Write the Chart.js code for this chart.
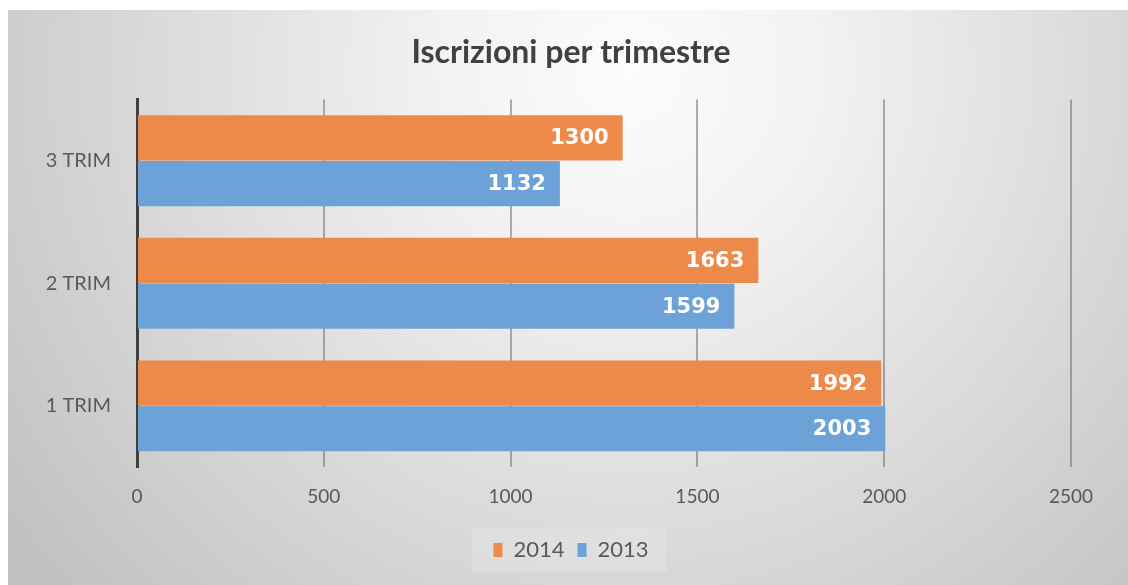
<!DOCTYPE html>
<html>
<head>
<meta charset="utf-8">
<script src="https://cdn.jsdelivr.net/npm/chart.js@4.4.0/dist/chart.umd.min.js"></script>
<style>
  html, body { margin: 0; padding: 0; background: #fff; }
  #box { width: 1128px; height: 585px; }
</style>
</head>
<body>
<div id="box"><canvas id="myChart"></canvas></div>
<script>
// dati
let trimestri = ["3 TRIM", "2 TRIM", "1 TRIM"];
let iscritti2014 = [1300, 1663, 1992];
let iscritti2013 = [1132, 1599, 2003];
let tickX = [0, 500, 1000, 1500, 2000, 2500];

let arancio = "#ED8A4A";
let azzurro = "#6CA2D8";

// sfondo grigio sfumato come in Excel
const sfondo = {
  id: "sfondo",
  beforeDraw(chart) {
    const c = chart.ctx;
    c.save();
    c.fillStyle = "#ffffff";
    c.fillRect(0, 0, chart.width, chart.height);
    let g = c.createRadialGradient(630, 70, 0, 630, 70, 760);
    g.addColorStop(0, "#fcfcfc");
    g.addColorStop(0.25, "#f2f2f2");
    g.addColorStop(1, "#c2c2c2");
    c.fillStyle = g;
    c.fillRect(8, 10, chart.width - 8, chart.height - 10);
    // riquadro legenda
    const lg = chart.legend;
    if (lg && lg.legendHitBoxes && lg.legendHitBoxes.length) {
      let sx = Math.min(...lg.legendHitBoxes.map(b => b.left));
      let dx = Math.max(...lg.legendHitBoxes.map(b => b.left + b.width));
      let yc = lg.legendHitBoxes[0].top + lg.legendHitBoxes[0].height / 2;
      c.fillStyle = "rgba(255,255,255,0.16)";
      c.fillRect(sx - 22, yc - 22, dx - sx + 40, 44);
    }
    c.restore();
  }
};

// etichette valori dentro le barre
const etichette = {
  id: "etichette",
  afterDatasetsDraw(chart) {
    const c = chart.ctx;
    c.save();
    c.font = "bold 21px 'DejaVu Sans'";
    c.fillStyle = "#ffffff";
    c.textAlign = "right";
    c.textBaseline = "middle";
    chart.data.datasets.forEach((ds, i) => {
      chart.getDatasetMeta(i).data.forEach((bar, j) => {
        c.fillText(ds.data[j], bar.x - 14, bar.y + 1);
      });
    });
    c.restore();
  }
};

const data = {
  labels: trimestri,
  datasets: [
    { label: "2014", data: iscritti2014, backgroundColor: arancio },
    { label: "2013", data: iscritti2013, backgroundColor: azzurro }
  ]
};

const config = {
  type: "bar",
  data: data,
  plugins: [sfondo, etichette],
  options: {
    indexAxis: "y",
    responsive: true,
    maintainAspectRatio: false,
    animation: false,
    categoryPercentage: 0.745,
    barPercentage: 0.99,
    layout: { padding: { left: 14, right: 0, top: 10, bottom: 14 } },
    plugins: {
      title: {
        display: true,
        text: "Iscrizioni per trimestre",
        color: "#404040",
        font: { family: "Lato", size: 32, weight: "bold" },
        padding: { top: 23, bottom: 28 }
      },
      legend: {
        position: "bottom",
        labels: {
          color: "#595959",
          font: { family: "Lato", size: 22 },
          boxWidth: 9,
          boxHeight: 14,
          padding: 13
        }
      },
      tooltip: { enabled: false }
    },
    scales: {
      x: {
        min: 0,
        max: 2500,
        afterBuildTicks(scale) {
          scale.ticks = tickX.map(v => ({ value: v }));
        },
        grid: {
          color: (ctx) => ctx.tick && ctx.tick.value === 0 ? "rgba(0,0,0,0)" : "rgba(110,110,110,0.55)",
          lineWidth: 2,
          drawTicks: false
        },
        border: { display: false },
        ticks: {
          color: "#595959",
          font: { family: "Lato", size: 19 },
          padding: 18,
          callback: (v) => String(v)
        }
      },
      y: {
        afterFit(scale) { scale.width = 123; },
        grid: { display: false },
        border: { display: true, color: "#404040", width: 3 },
        ticks: {
          color: "#595959",
          font: { family: "Lato", size: 20 },
          padding: 18
        }
      },
      // asse vuoto a destra, solo per lasciare il margine
      margine: {
        type: "linear",
        axis: "y",
        position: "right",
        afterFit(scale) { scale.width = 57; },
        grid: { display: false },
        border: { display: false },
        ticks: { display: false }
      }
    }
  }
};

new Chart(document.getElementById("myChart"), config);
</script>
</body>
</html>
